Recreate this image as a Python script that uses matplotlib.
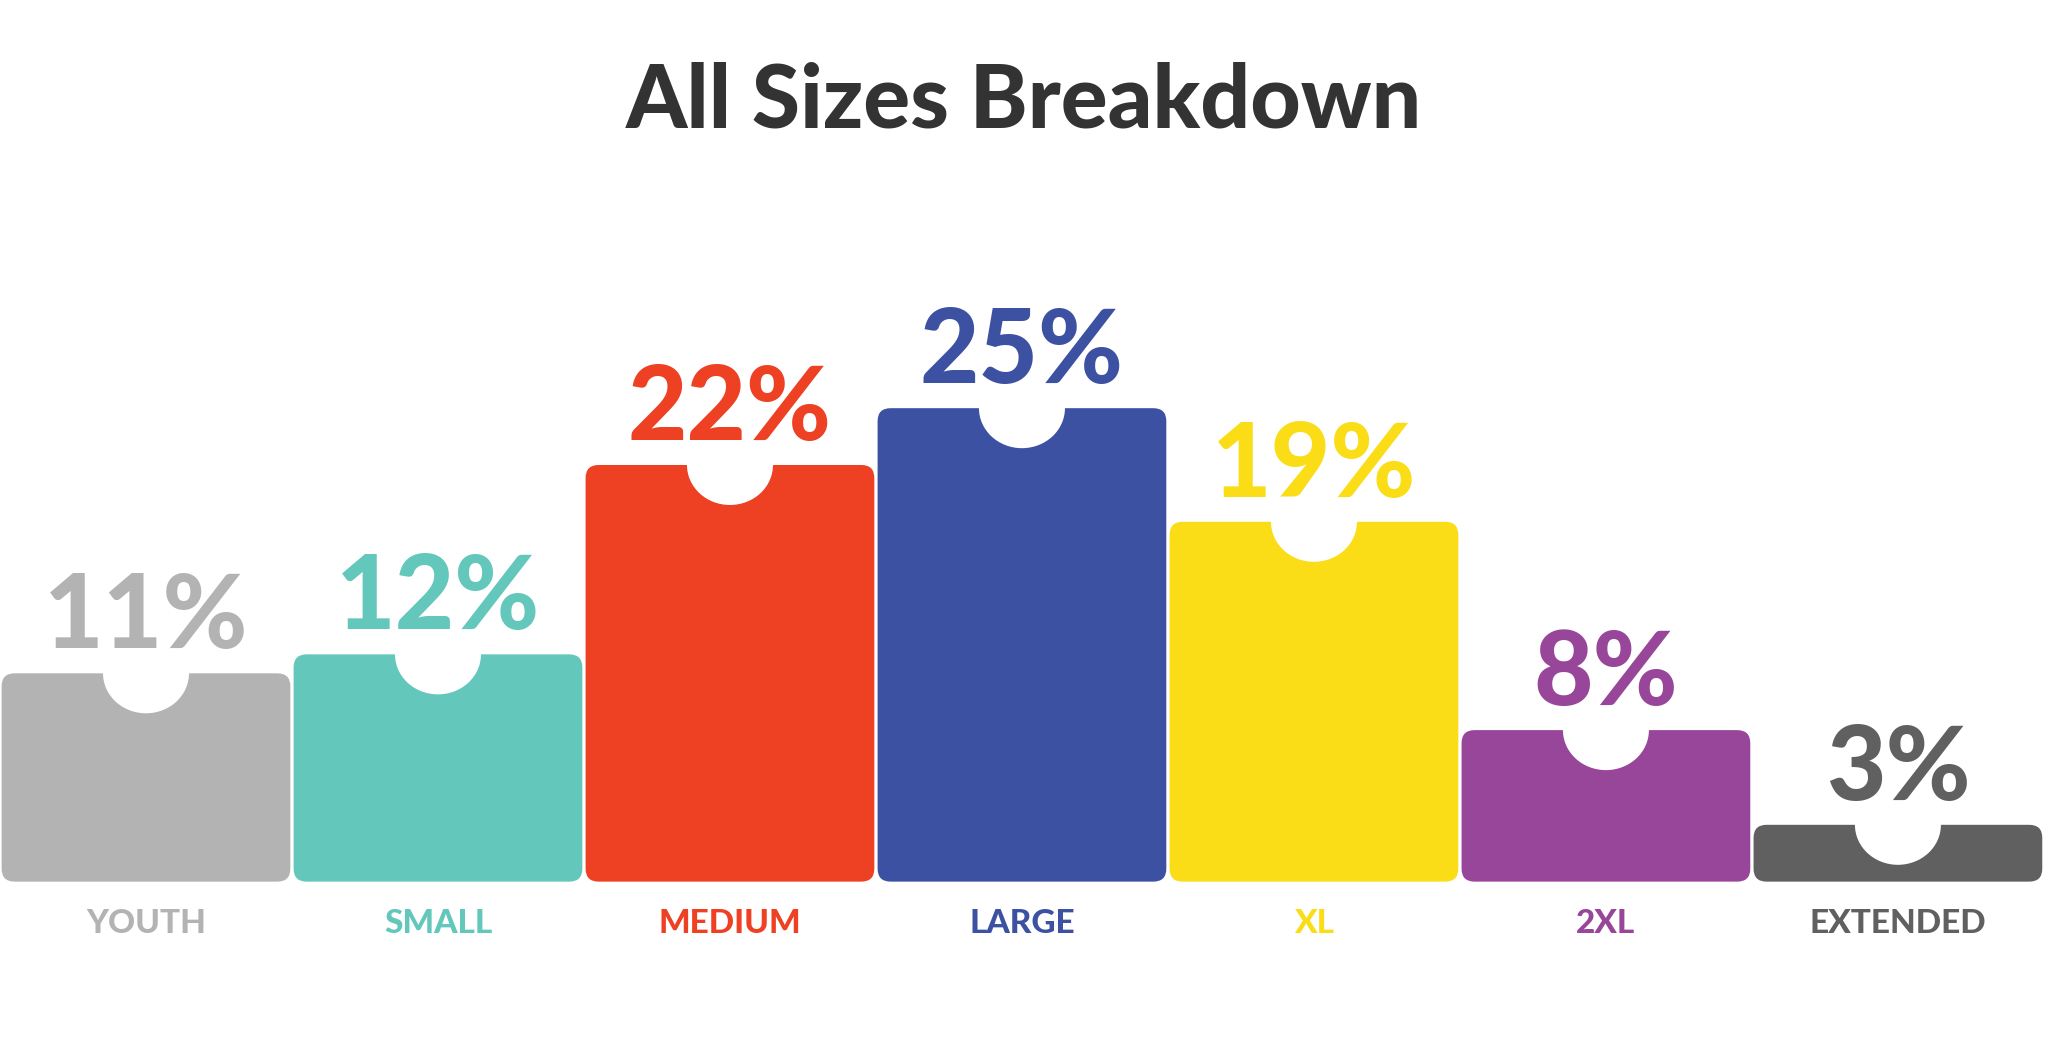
import matplotlib.pyplot as plt
from matplotlib.patches import FancyBboxPatch, Ellipse

sizes = ['YOUTH', 'SMALL', 'MEDIUM', 'LARGE', 'XL', '2XL', 'EXTENDED']
shares = [11, 12, 22, 25, 19, 8, 3]
colors = ['#B3B3B3', '#63C7BC', '#EE4023', '#3D51A3', '#FADD17', '#974699', '#606060']

W, H = 2048, 1058
fig = plt.figure(figsize=(W / 100, H / 100), dpi=100)
fig.patch.set_facecolor('white')
ax = fig.add_axes([0, 0.1667, 0.998, 0.537])
ax.set_xlim(-0.5, 6.5)
ax.set_ylim(0, 30)
ax.axis('off')

# pixels per data unit
px_x = 0.998 * W / 7
px_y = 0.537 * H / 30
fam = ['Lato', 'DejaVu Sans']

bw = 221 / 223.5
r = 13 / px_x
for i, (s, v, c) in enumerate(zip(sizes, shares, colors)):
    ax.add_patch(FancyBboxPatch((i - bw / 2, 0), bw, v,
                                boxstyle=f'round,pad=0,rounding_size={r}',
                                mutation_aspect=px_x / px_y, fc=c, ec='none'))
    # neck cut-out
    ax.add_patch(Ellipse((i, v), 86 / px_x, 80 / px_y, fc='white', ec='none'))
    ax.text(i, v + 8 / px_y, f'{v}%', ha='center', va='bottom', color=c,
            fontsize=74, fontweight='black', family=fam)
    ax.text(i, -42 / px_y, s, ha='center', va='center', color=c,
            fontsize=24, fontweight='black', family=fam, clip_on=False)

fig.text(0.5, 0.904, 'All Sizes Breakdown', ha='center', va='center',
         color='#333333', fontsize=63, fontweight='black', family=fam)

fig.savefig('out.png', dpi=100, facecolor='white')
